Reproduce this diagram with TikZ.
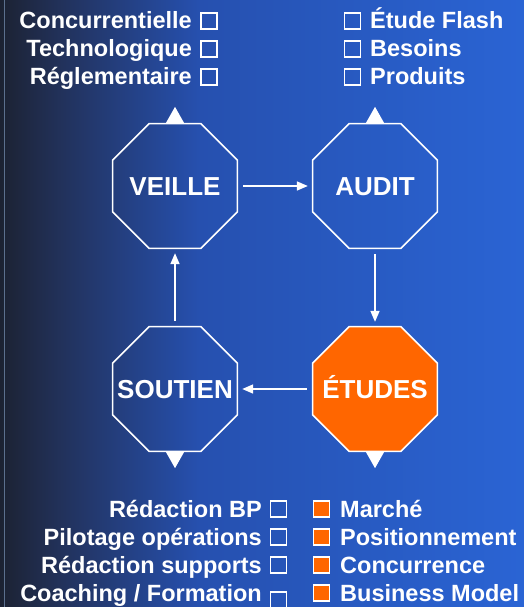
\documentclass[tikz,border=0pt]{standalone}
\usepackage{fontspec}
\setmainfont{Liberation Sans}
\usetikzlibrary{shapes.geometric,arrows.meta}

\definecolor{bgdark}{RGB}{28,34,50}
\definecolor{bgnavy}{RGB}{34,50,92}
\definecolor{bgmid}{RGB}{38,80,175}
\definecolor{bgblue}{RGB}{42,100,212}
\definecolor{edgeline}{RGB}{92,112,142}
\definecolor{etudesorange}{RGB}{255,102,0}

\pgfdeclarehorizontalshading{backdrop}{100bp}{color(0bp)=(bgdark); color(25bp)=(bgdark);
  color(31bp)=(bgnavy); color(44bp)=(bgmid); color(75bp)=(bgblue); color(100bp)=(bgblue)}

\tikzset{
  octo/.style={regular polygon, regular polygon sides=8,
    draw=white, line width=1.6pt, minimum size=135pt, inner xsep=-30pt, inner ysep=0pt,
    text height=19pt, text depth=0pt,
    text=white, font=\bfseries\fontsize{26}{30}\selectfont},
  item/.style={text=white, inner sep=0pt, font=\bfseries\fontsize{23.5}{28}\selectfont},
  tick/.style={draw=white, line width=1.3pt, minimum size=16pt, inner sep=0pt},
  flow/.style={draw=white, line width=1.6pt, -{Triangle[width=9pt,length=11pt]},
    shorten <=5pt, shorten >=4pt}
}

\begin{document}
\begin{tikzpicture}[x=1pt,y=-1pt]

  \useasboundingbox (0,0) rectangle (524,607);
  \shade[shading=backdrop] (0,0) rectangle (524,607);
  \draw[line width=1pt, edgeline] (4.5,0) -- (4.5,607);

  \begin{scope}[every node/.style={octo}]
    \node (veille)  at (175,186) {VEILLE};
    \node (audit)   at (375,186) {AUDIT};
    \node[fill=etudesorange] (etudes) at (375,389) {ÉTUDES};
    \node (soutien) at (175,389) {SOUTIEN};
  \end{scope}

  % pointers towards the lists
  \foreach \n in {veille,audit}
    \fill[white] ([xshift=-9pt]\n.north) -- ([xshift=9pt]\n.north) -- ([yshift=16pt]\n.north) -- cycle;
  \foreach \n in {soutien,etudes}
    \fill[white] ([xshift=-9pt]\n.south) -- ([xshift=9pt]\n.south) -- ([yshift=-16pt]\n.south) -- cycle;

  \begin{scope}[every edge/.style={flow}]
    \path (veille)  edge (audit);
    \path (audit)   edge (etudes);
    \path (etudes)  edge (soutien);
    \path (soutien) edge (veille);
  \end{scope}

  \begin{scope}[every node/.style={item}]
    % veille
    \node[anchor=base east] (conc) at (192,29) {Concurrentielle};
    \node[anchor=base east] (tech) at (192,57) {Technologique};
    \node[anchor=base east] (regl) at (192,85) {Réglementaire};
    % audit
    \node[anchor=base west] (flash) at (370,29) {Étude Flash};
    \node[anchor=base west] (bes)   at (370,57) {Besoins};
    \node[anchor=base west] (prod)  at (370,85) {Produits};
    % soutien
    \node[anchor=base east] (bp)    at (262,517) {Rédaction BP};
    \node[anchor=base east] (pilot) at (262,545) {Pilotage opérations};
    \node[anchor=base east] (supp)  at (262,573) {Rédaction supports};
    \node[anchor=base east] (coach) at (262,601) {Coaching / Formation};
    % etudes
    \node[anchor=base west] (marche) at (340,517) {Marché};
    \node[anchor=base west] (posit)  at (340,545) {Positionnement};
    \node[anchor=base west] (concu)  at (340,573) {Concurrence};
    \node[anchor=base west] (bm)     at (340,601) {Business Model};
  \end{scope}

  \begin{scope}[every node/.style={tick}]
    \node (conc box)  at (209,21) {};
    \node (tech box)  at (209,49) {};
    \node (regl box)  at (209,77) {};
    \node (flash box) at (352.5,21) {};
    \node (bes box)   at (352.5,49) {};
    \node (prod box)  at (352.5,77) {};
    \node (bp box)    at (278.5,509) {};
    \node (pilot box) at (278.5,537) {};
    \node (supp box)  at (278.5,565) {};
    \node (coach box) at (278.5,600) {};
  \end{scope}

  \begin{scope}[every node/.style={tick, fill=etudesorange}]
    \node (marche box) at (321.5,509) {};
    \node (posit box)  at (321.5,537) {};
    \node (concu box)  at (321.5,565) {};
    \node (bm box)     at (321.5,593) {};
  \end{scope}

\end{tikzpicture}
\end{document}
